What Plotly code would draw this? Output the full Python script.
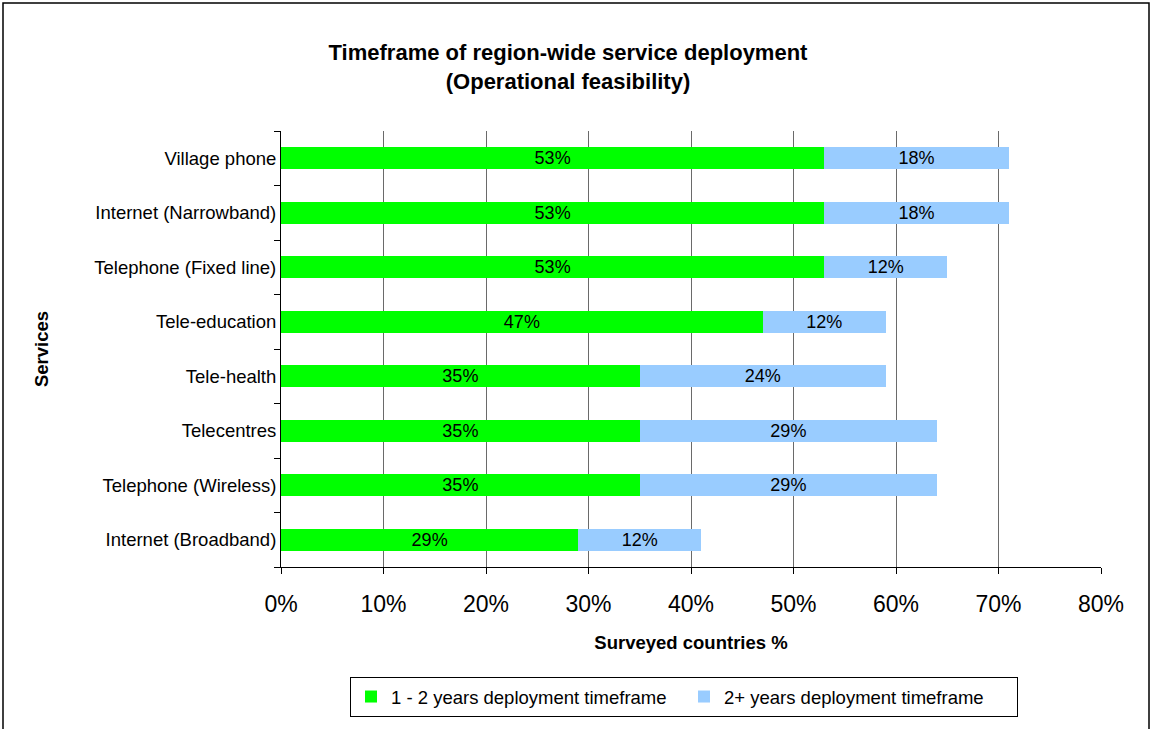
import plotly.graph_objects as go

services = [
    "Internet (Broadband)",
    "Telephone (Wireless)",
    "Telecentres",
    "Tele-health",
    "Tele-education",
    "Telephone (Fixed line)",
    "Internet (Narrowband)",
    "Village phone",
]
short_term = [29, 35, 35, 35, 47, 53, 53, 53]
long_term = [12, 29, 29, 24, 12, 12, 18, 18]
x_ticks = [0, 10, 20, 30, 40, 50, 60, 70, 80]

FONT = "Liberation Sans, Arial, sans-serif"
W, H = 1152, 729
L, R, T, B = 281, 51, 131, 162
LABEL_SIZE = 18.5

fig = go.Figure()
fig.add_trace(go.Bar(
    y=services, x=short_term, orientation="h",
    name="1 - 2 years deployment timeframe",
    marker=dict(color="#00ff00", line=dict(width=0)),
    text=[f"{v}%" for v in short_term],
    textposition="inside", insidetextanchor="middle",
    textfont=dict(color="black", size=18, family=FONT),
    constraintext="none",
))
fig.add_trace(go.Bar(
    y=services, x=long_term, orientation="h",
    name="2+ years deployment timeframe",
    marker=dict(color="#99ccff", line=dict(width=0)),
    text=[f"{v}%" for v in long_term],
    textposition="inside", insidetextanchor="middle",
    textfont=dict(color="black", size=18, family=FONT),
    constraintext="none",
))

pw = W - L - R
ph = H - T - B


def px_to_paper_x(px):
    return (px - L) / pw


def px_to_paper_y(py):
    return (H - B - py) / ph


fig.update_layout(
    width=W, height=H,
    margin=dict(l=L, r=R, t=T, b=B),
    barmode="stack", bargap=0.6,
    plot_bgcolor="white", paper_bgcolor="white",
    font=dict(family=FONT, color="black"),
    title=dict(
        text="<b>Timeframe of region-wide service deployment<br>(Operational feasibility)</b>",
        x=(568 / W), xref="container", xanchor="center",
        y=1 - 60 / H, yanchor="top",
        font=dict(size=22, family=FONT, color="black"),
    ),
    xaxis=dict(
        range=[0, 80], tickvals=x_ticks,
        ticktext=[f"{v}%" for v in x_ticks],
        tickfont=dict(size=23, family=FONT),
        ticklabelstandoff=10,
        showgrid=True, gridcolor="#6a6a6a", gridwidth=1.3,
        showline=True, linecolor="black", linewidth=1,
        ticks="outside", ticklen=6, tickcolor="black",
        zeroline=False,
        title=dict(text="<b>Surveyed countries %</b>",
                   font=dict(size=LABEL_SIZE, family=FONT), standoff=20),
    ),
    yaxis=dict(
        showgrid=False, showline=True, linecolor="black", linewidth=1,
        ticks="outside", ticklen=6, tickcolor="black", tickson="boundaries",
        tickfont=dict(size=LABEL_SIZE, family=FONT),
        title=dict(text="<b>Services</b>", font=dict(size=LABEL_SIZE, family=FONT),
                   standoff=40),
        ticklabelstandoff=0,
    ),
    legend=dict(
        orientation="h",
        x=px_to_paper_x(350), y=px_to_paper_y(677),
        xanchor="left", yanchor="top",
        bordercolor="black", borderwidth=1,
        font=dict(size=LABEL_SIZE, family=FONT),
        entrywidth=288, itemwidth=30,
        traceorder="normal",
    ),
    shapes=[dict(
        type="rect", xref="paper", yref="paper",
        x0=px_to_paper_x(3), x1=px_to_paper_x(1149),
        y0=px_to_paper_y(740), y1=px_to_paper_y(3),
        line=dict(color="black", width=1.5), fillcolor="rgba(0,0,0,0)",
        layer="below",
    )],
)

fig.write_html("out.html")
